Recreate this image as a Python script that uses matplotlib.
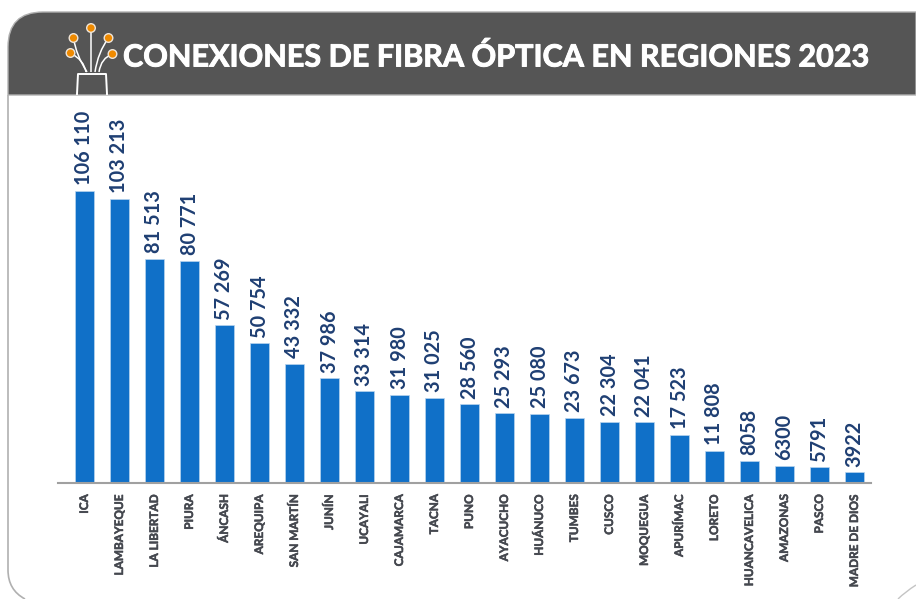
import matplotlib
matplotlib.use("Agg")
import matplotlib.pyplot as plt
import matplotlib.patheffects as pe
from matplotlib.path import Path
from matplotlib.patches import PathPatch, Circle

regiones = ["ICA", "LAMBAYEQUE", "LA LIBERTAD", "PIURA", "ÁNCASH", "AREQUIPA",
            "SAN MARTÍN", "JUNÍN", "UCAYALI", "CAJAMARCA", "TACNA", "PUNO",
            "AYACUCHO", "HUÁNUCO", "TUMBES", "CUSCO", "MOQUEGUA", "APURÍMAC",
            "LORETO", "HUANCAVELICA", "AMAZONAS", "PASCO", "MADRE DE DIOS"]
conexiones = [106110, 103213, 81513, 80771, 57269, 50754, 43332, 37986, 33314,
              31980, 31025, 28560, 25293, 25080, 23673, 22304, 22041, 17523,
              11808, 8058, 6300, 5791, 3922]
etiquetas = ["106 110", "103 213", "81 513", "80 771", "57 269", "50 754",
             "43 332", "37 986", "33 314", "31 980", "31 025", "28 560",
             "25 293", "25 080", "23 673", "22 304", "22 041", "17 523",
             "11 808", "8058", "6300", "5791", "3922"]
titulo = "CONEXIONES DE FIBRA ÓPTICA EN REGIONES 2023"

W, H = 916, 599
plt.rcParams["font.family"] = ["Lato", "DejaVu Sans"]
fig = plt.figure(figsize=(W / 100, H / 100), dpi=100)

# capa de fondo en pixeles: marco, cabecera e icono
bg = fig.add_axes([0, 0, 1, 1])
bg.set_xlim(0, W)
bg.set_ylim(H, 0)
bg.axis("off")

header = Path([(916, 95), (8, 95), (8, 47), (8, 12), (43, 12), (916, 12), (916, 95)],
              [Path.MOVETO, Path.LINETO, Path.LINETO, Path.CURVE3, Path.CURVE3,
               Path.LINETO, Path.LINETO])
bg.add_patch(PathPatch(header, fc="#555555", ec="#b0b0b0", lw=1))
borde = Path([(8, 95), (8, 570), (8, 590), (25, 599)],
             [Path.MOVETO, Path.LINETO, Path.CURVE3, Path.CURVE3])
bg.add_patch(PathPatch(borde, fc="none", ec="#b0b0b0", lw=1.2))
esquina = Path([(916, 585), (905, 592), (898, 599)], [Path.MOVETO, Path.CURVE3, Path.CURVE3])
bg.add_patch(PathPatch(esquina, fc="none", ec="#c4c4c4", lw=1))

# icono de fibra
bg.plot([77, 78, 106, 107], [94, 74, 74, 94], color="white", lw=1.4)
fibras = [((70.5, 53), (84, 60), (86, 72)),
          ((73.5, 38), (76, 55), (87, 72)),
          ((91, 28), (91, 50), (91, 72)),
          ((108.5, 38), (98, 52), (95, 72)),
          ((112.5, 54), (101, 58), (99, 72))]
for a, b, c in fibras:
    bg.add_patch(PathPatch(Path([a, b, c], [Path.MOVETO, Path.CURVE3, Path.CURVE3]),
                           fc="none", ec="white", lw=1.1))
    bg.add_patch(Circle(a, 4.3, fc="#ef8a00", ec="#f0e6da", lw=1, zorder=3))

bg.text(123, 57, titulo, color="white", fontsize=22, fontweight="bold",
        va="center", ha="left",
        path_effects=[pe.withStroke(linewidth=0.7, foreground="white")])

# barras
base, tope = 483, 191
izq, der = 58, 871
ax = fig.add_axes([izq / W, 1 - base / H, (der - izq) / W, (base - tope) / H])
ax.patch.set_alpha(0)
x = list(range(len(regiones)))
ax.bar(x, conexiones, width=0.53, color="#1070c8", edgecolor="#b9d4ee", linewidth=0.5)
ax.set_xlim((izq - 84.5) / 35, (der - 84.5) / 35)
ax.set_ylim(0, max(conexiones))
ax.set_yticks([])
for s in ["top", "right", "left"]:
    ax.spines[s].set_visible(False)
ax.spines["bottom"].set_color("#a0a0a0")
ax.spines["bottom"].set_linewidth(1.5)
ax.set_xticks(x)
ax.set_xticklabels(regiones, rotation=90, fontsize=8.5, fontweight="bold", color="#45484f",
                   path_effects=[pe.withStroke(linewidth=0.35, foreground="#45484f")])
ax.tick_params(axis="x", length=0, pad=8)

for xi, v, t in zip(x, conexiones, etiquetas):
    ax.annotate(t, (xi, v), xytext=(0, 4), textcoords="offset points", rotation=90,
                ha="center", va="bottom", fontsize=14.3, fontweight="bold", color="#1f3f73")

fig.savefig("out.png", dpi=100)
